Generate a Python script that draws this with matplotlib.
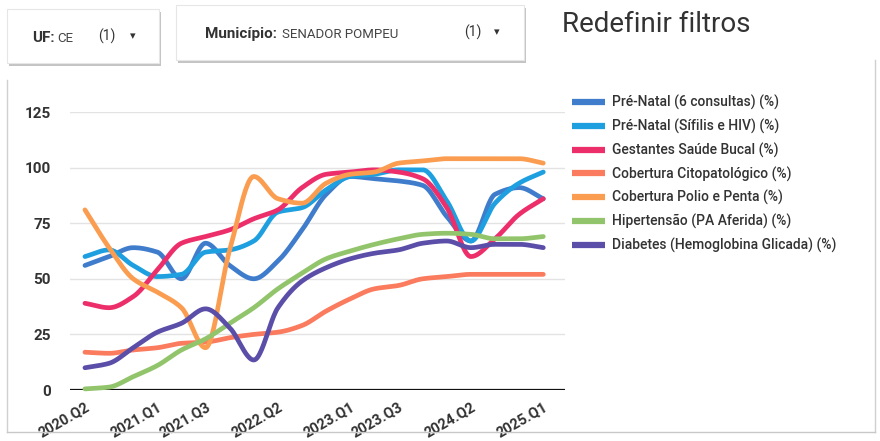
import numpy as np
import matplotlib
matplotlib.use("Agg")
import matplotlib.pyplot as plt
from matplotlib.patches import Rectangle
from matplotlib.lines import Line2D

plt.rcParams['font.family'] = ['Roboto', 'DejaVu Sans']

# trimestres 2020.Q2 .. 2025.Q1
quarters = ['2020.Q2', '2020.Q3', '2020.Q4', '2021.Q1', '2021.Q2', '2021.Q3', '2021.Q4',
            '2022.Q1', '2022.Q2', '2022.Q3', '2022.Q4', '2023.Q1', '2023.Q2', '2023.Q3',
            '2023.Q4', '2024.Q1', '2024.Q2', '2024.Q3', '2024.Q4', '2025.Q1']
shown_ticks = ['2020.Q2', '2021.Q1', '2021.Q3', '2022.Q2', '2023.Q1', '2023.Q3', '2024.Q2', '2025.Q1']

prenatal_6 = [56, 60, 64, 62, 50, 66, 56, 50, 58, 72, 88, 96, 95, 94, 92, 78, 67, 88, 91, 86]
prenatal_sifilis = [60, 63, 56, 51, 52, 62, 63, 67, 80, 82, 90, 96, 97, 99, 99, 85, 67, 84, 93, 98]
saude_bucal = [39, 37, 42, 54, 66, 69, 72, 77, 81, 91, 97, 98, 99, 98, 95, 82, 60, 68, 79, 86]
citopatologico = [17, 16.5, 18, 19, 21, 21.5, 23.5, 25, 26, 29, 35.5, 41, 45.5, 47, 50, 51, 52, 52, 52, 52]
polio_penta = [81, 64, 50, 44, 37, 19, 63, 96, 86, 84, 93, 97, 98, 102, 103, 104, 104, 104, 104, 102]
hipertensao = [0.5, 1.3, 6, 11, 18, 23, 30, 37, 45.5, 52.5, 59, 62.5, 65.5, 68, 70, 70.5, 70, 68, 68, 69]
diabetes = [10, 12, 19, 26, 30, 36.5, 28, 13.5, 37, 49, 55, 59, 61.5, 63, 66, 67, 64, 65.5, 65.5, 64]

labels = ['Pré-Natal (6 consultas) (%)', 'Pré-Natal (Sífilis e HIV) (%)', 'Gestantes Saúde Bucal (%)',
          'Cobertura Citopatológico (%)', 'Cobertura Polio e Penta (%)', 'Hipertensão (PA Aferida) (%)',
          'Diabetes (Hemoglobina Glicada) (%)']
colors = ['#3f7dcc', '#1e9fe0', '#ec2f6b', '#fa7b5d', '#fb9d50', '#92c56b', '#5b4ea8']
series = [prenatal_6, prenatal_sifilis, saude_bucal, citopatologico, polio_penta, hipertensao, diabetes]


def smooth(y, n=24):
    # curva monotona (tipo monotoneX) so para o desenho
    y = np.asarray(y, float)
    x = np.arange(len(y), dtype=float)
    d = np.diff(y)
    m = np.zeros_like(y)
    m[0], m[-1] = d[0], d[-1]
    for k in range(1, len(y) - 1):
        if d[k - 1] * d[k] > 0:
            m[k] = 2.0 / (1.0 / d[k - 1] + 1.0 / d[k])
    xs, ys = [], []
    t = np.linspace(0, 1, n, endpoint=False)
    for k in range(len(y) - 1):
        h00 = 2 * t**3 - 3 * t**2 + 1
        h10 = t**3 - 2 * t**2 + t
        h01 = -2 * t**3 + 3 * t**2
        h11 = t**3 - t**2
        xs.append(x[k] + t)
        ys.append(h00 * y[k] + h10 * m[k] + h01 * y[k + 1] + h11 * m[k + 1])
    xs.append([x[-1]])
    ys.append([y[-1]])
    return np.concatenate(xs), np.concatenate(ys)


W, H = 880, 441
fig = plt.figure(figsize=(W / 100, H / 100), dpi=100)
fig.patch.set_facecolor('white')


def px(x, y):
    return x / W, 1 - y / H


# filtros no topo
for (x0, y0, x1, y1) in [(7, 9, 159, 63), (176, 5, 524, 60)]:
    fig.patches.append(Rectangle(px(x0 + 2, y1 + 3), (x1 - x0) / W, (y1 - y0) / H,
                                 transform=fig.transFigure, facecolor='#c4c4c4', edgecolor='none'))
    fig.patches.append(Rectangle(px(x0, y1), (x1 - x0) / W, (y1 - y0) / H,
                                 transform=fig.transFigure, facecolor='white', edgecolor='#e6e6e6', lw=0.8))

fig.text(*px(32, 38), 'UF:', fontsize=11, color='#333333', fontweight='bold', va='center')
fig.text(*px(57, 38), 'CE', fontsize=9.5, color='#444444', va='center')
fig.text(*px(98, 36), '(1)', fontsize=10, color='#333333', va='center')
fig.text(*px(130, 36), '▾', fontsize=8, color='#333333', va='center')
fig.text(*px(205, 34), 'Município:', fontsize=11, color='#333333', fontweight='bold', va='center')
fig.text(*px(282, 34), 'SENADOR POMPEU', fontsize=9.5, color='#444444', va='center')
fig.text(*px(464, 32), '(1)', fontsize=10, color='#333333', va='center')
fig.text(*px(494, 32), '▾', fontsize=8, color='#333333', va='center')
fig.text(*px(562, 25), 'Redefinir filtros', fontsize=20, color='#333333', va='center')

# moldura do grafico
fig.lines.append(Line2D([7 / W, 7 / W], [1 - 80 / H, 1 - 432 / H], transform=fig.transFigure, color='#d0d0d0', lw=1))
fig.lines.append(Line2D([875 / W, 875 / W], [1 - 60 / H, 1 - 432 / H], transform=fig.transFigure, color='#d0d0d0', lw=1))
fig.lines.append(Line2D([7 / W, 875 / W], [1 - 432 / H, 1 - 432 / H], transform=fig.transFigure, color='#c8c8c8', lw=1))

# eixo principal
ax = fig.add_axes([70 / W, 1 - 390 / H, 495 / W, 278 / H])
ax.set_facecolor('none')
for vals, c, lab in zip(series, colors, labels):
    xs, ys = smooth(vals)
    ax.plot(xs, ys, color=c, lw=3.4, label=lab, solid_capstyle='round', clip_on=False)

ax.set_xlim(-0.62, 19.9)
ax.set_ylim(0, 125)
ax.set_yticks([0, 25, 50, 75, 100, 125])
ax.grid(axis='y', color='#e3e3e3', lw=1)
ax.set_axisbelow(True)
ax.axhline(0, color='#111111', lw=1.6, zorder=1)
for s in ax.spines.values():
    s.set_visible(False)
ax.tick_params(length=0)
ax.tick_params(axis='y', pad=14, labelsize=11, labelcolor='#333333')
ax.tick_params(axis='x', pad=7, labelsize=10.5, labelcolor='#333333')
ax.set_xticks([quarters.index(q) for q in shown_ticks])
ax.set_xticklabels(shown_ticks, rotation=30, ha='right', rotation_mode='anchor')
for t in ax.get_yticklabels() + ax.get_xticklabels():
    t.set_fontweight('bold')

leg = ax.legend(loc='upper left', bbox_to_anchor=(572 / W, 1 - 95 / H), bbox_transform=fig.transFigure,
                frameon=False, fontsize=10, handlelength=2.4, handletextpad=0.45, labelspacing=0.62,
                borderpad=0, borderaxespad=0)
for line in leg.get_lines():
    line.set_linewidth(4.5)
    line.set_solid_capstyle('butt')
for t in leg.get_texts():
    t.set_color('#333333')
    t.set_fontweight('medium')

fig.savefig('out.png', dpi=100, facecolor='white')
